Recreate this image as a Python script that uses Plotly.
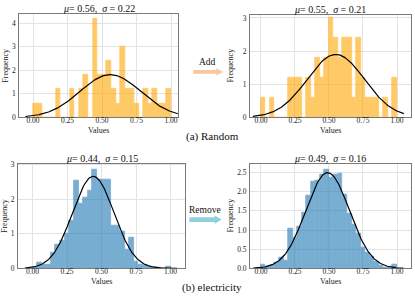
import numpy as np
import plotly.graph_objects as go

W, H = 415, 300
FONT = "Liberation Serif"

# ---------------- data ----------------
n_bins = 30
bin_lo, bin_hi = 0.0, 1.0

# histogram densities (per bin, 30 equal bins on [0, 1])
random_before = [0.6, 0.6, 0, 0, 0, 1.2, 0, 0, 1.2, 0, 1.2, 1.8, 0, 4.2, 1.8,
                 1.8, 2.4, 1.2, 0.6, 3.0, 1.2, 1.2, 0.6, 0, 1.2, 0.6, 1.2, 0.6, 0.6, 1.2]
random_after = [0.6, 0, 0.6, 0, 0, 0, 1.2, 1.2, 1.2, 0, 1.2, 0.6, 1.8, 1.2, 1.8,
                3.0, 2.4, 1.8, 2.4, 2.4, 0.6, 2.4, 1.2, 0.6, 0.6, 0.6, 0, 0.6, 0, 1.2]
elec_before = [0.02, 0.17, 0.12, 0.12, 0.47, 0.69, 0.80, 1.00, 1.38, 2.53, 1.87, 2.05,
               2.25, 2.86, 2.58, 2.58, 2.58, 1.25, 1.25, 1.07, 0.55, 0.90, 0.20, 0.12,
               0.08, 0.05, 0.02, 0.02, 0.0, 0.06]
elec_after = [0.11, 0.04, 0.07, 0.15, 0.28, 0.20, 1.04, 0.80, 1.10, 1.45, 1.90, 2.25,
              2.30, 2.45, 2.58, 2.37, 2.45, 2.48, 1.93, 1.42, 1.13, 0.90, 0.53, 0.40,
              0.32, 0.17, 0.07, 0.03, 0.02, 0.11]

mus = [0.56, 0.55, 0.44, 0.49]
sigmas = [0.22, 0.21, 0.15, 0.16]
x_ticks = [0.0, 0.25, 0.5, 0.75, 1.0]
x_ticktext = ["0.00", "0.25", "0.50", "0.75", "1.00"]
y_ticks = [[0, 1, 2, 3, 4], [0, 1, 2, 3], [0, 1, 2, 3], [0, 0.5, 1.0, 1.5, 2.0, 2.5]]
y_ticktext = [["0", "1", "2", "3", "4"], ["0", "1", "2", "3"], ["0", "1", "2", "3"],
              ["0.0", "0.5", "1.0", "1.5", "2.0", "2.5"]]
captions = ["(a) Random", "(b) electricity"]
arrow_labels = ["Add", "Remove"]

# ---------------- layout helpers ----------------
def px(x):
    return x / W

def py(y):
    return 1 - y / H

# panel boxes in pixels: (left, right, top, bottom)
boxes = [(19.2, 177.9, 11, 117.5), (250.1, 410.6, 12, 117.5),
         (18.0, 185.0, 165, 272.7), (250.1, 410.6, 165, 272.7)]
xranges = [[-0.10, 1.05], [-0.08, 1.10], [-0.105, 1.105], [-0.08, 1.10]]
yranges = [[0, 4.40], [0, 3.10], [0, 3.03], [0, 2.73]]
curve_span = [(-0.055, 1.05), (-0.06, 1.05), (-0.055, 1.05), (-0.057, 1.046)]

hists = [random_before, random_after, elec_before, elec_after]
colors = ["rgb(255,165,0)", "rgb(255,165,0)", "rgb(31,119,180)", "rgb(31,119,180)"]

w = (bin_hi - bin_lo) / n_bins
centers = [bin_lo + w * (i + 0.5) for i in range(n_bins)]

fig = go.Figure()
annotations = []
shapes = []

for k in range(4):
    xa = "x" if k == 0 else f"x{k+1}"
    ya = "y" if k == 0 else f"y{k+1}"
    fig.add_trace(go.Bar(x=centers, y=hists[k], width=w, xaxis=xa, yaxis=ya,
                         marker=dict(color=colors[k], line=dict(width=0.8, color=colors[k])),
                         opacity=0.6, showlegend=False, hoverinfo="skip"))
    xs = np.linspace(curve_span[k][0], curve_span[k][1], 200)
    ys = np.exp(-0.5 * ((xs - mus[k]) / sigmas[k]) ** 2) / (sigmas[k] * np.sqrt(2 * np.pi))
    fig.add_trace(go.Scatter(x=xs, y=ys, mode="lines", xaxis=xa, yaxis=ya,
                             line=dict(color="black", width=1.2),
                             showlegend=False, hoverinfo="skip"))
    l, r, t, b = boxes[k]
    axcommon = dict(showgrid=True, gridcolor="#e3e3e3", gridwidth=1, zeroline=False,
                    showline=True, linecolor="#7a7a7a", linewidth=1, mirror=True,
                    ticks="", tickfont=dict(family=FONT, size=7.5, color="#222"))
    xname = "xaxis" if k == 0 else f"xaxis{k+1}"
    yname = "yaxis" if k == 0 else f"yaxis{k+1}"
    fig.update_layout(**{
        xname: dict(domain=[px(l), px(r)], range=xranges[k], anchor=ya,
                    tickvals=x_ticks, ticktext=x_ticktext, ticklabelstandoff=-4, **axcommon),
        yname: dict(domain=[py(b), py(t)], range=yranges[k], anchor=xa,
                    tickvals=y_ticks[k], ticktext=y_ticktext[k], ticklabelstandoff=1, **axcommon),
    })
    cx = (l + r) / 2
    # subplot title
    annotations.append(dict(
        x=px(cx), y=py(t - 5.5), xref="paper", yref="paper", showarrow=False,
        xanchor="center", yanchor="middle",
        text=f"<i>μ</i>= {mus[k]:.2f},  <i>σ</i> = {sigmas[k]:.2f}",
        font=dict(family=FONT, size=10, color="#111")))
    # x axis title
    annotations.append(dict(
        x=px(cx), y=py(b + 13.5), xref="paper", yref="paper", showarrow=False,
        xanchor="center", yanchor="middle", text="Values",
        font=dict(family=FONT, size=8, color="#222")))
    # y axis title
    annotations.append(dict(
        x=px(l - (14 if k in (0, 2) else 20.5)), y=py((t + b) / 2), xref="paper", yref="paper",
        showarrow=False, xanchor="center", yanchor="middle", text="Frequency", textangle=-90,
        font=dict(family=FONT, size=8, color="#222")))

# captions
annotations.append(dict(x=px(213), y=py(137.5), xref="paper", yref="paper", showarrow=False,
                        xanchor="center", yanchor="middle",
                        text=captions[0], font=dict(family=FONT, size=11, color="#111")))
annotations.append(dict(x=px(212), y=py(292), xref="paper", yref="paper", showarrow=False,
                        xanchor="center", yanchor="middle",
                        text=captions[1], font=dict(family=FONT, size=11, color="#111")))
# arrow labels
annotations.append(dict(x=px(207), y=py(61), xref="paper", yref="paper", showarrow=False,
                        xanchor="center", yanchor="middle",
                        text=arrow_labels[0], font=dict(family=FONT, size=9.5, color="#111")))
annotations.append(dict(x=px(205), y=py(212.5), xref="paper", yref="paper", showarrow=False,
                        xanchor="center", yanchor="middle",
                        text=arrow_labels[1], font=dict(family=FONT, size=9.5, color="#111")))


def block_arrow(x0, x1, yc, shaft_h, head_h, head_len, color):
    xh = x1 - head_len
    pts = [(x0, yc - shaft_h / 2), (xh, yc - shaft_h / 2), (xh, yc - head_h / 2),
           (x1, yc), (xh, yc + head_h / 2), (xh, yc + shaft_h / 2), (x0, yc + shaft_h / 2)]
    path = "M " + " L ".join(f"{px(a):.5f},{py(b):.5f}" for a, b in pts) + " Z"
    return dict(type="path", path=path, xref="paper", yref="paper",
                fillcolor=color, line=dict(width=0))


shapes.append(block_arrow(193.3, 223.3, 70.8, 4.0, 7.5, 7, "#F8C6A0"))
shapes.append(block_arrow(189.3, 221.7, 222.5, 4.8, 8.5, 7, "#8FCFE0"))

fig.update_layout(width=W, height=H, margin=dict(l=0, r=0, t=0, b=0),
                  paper_bgcolor="white", plot_bgcolor="white", barmode="overlay",
                  bargap=0, bargroupgap=0,
                  annotations=annotations, shapes=shapes)

fig.write_html("out.html", config={"displayModeBar": False},
               post_script="document.body.style.margin='0px';document.body.style.padding='0px';")
